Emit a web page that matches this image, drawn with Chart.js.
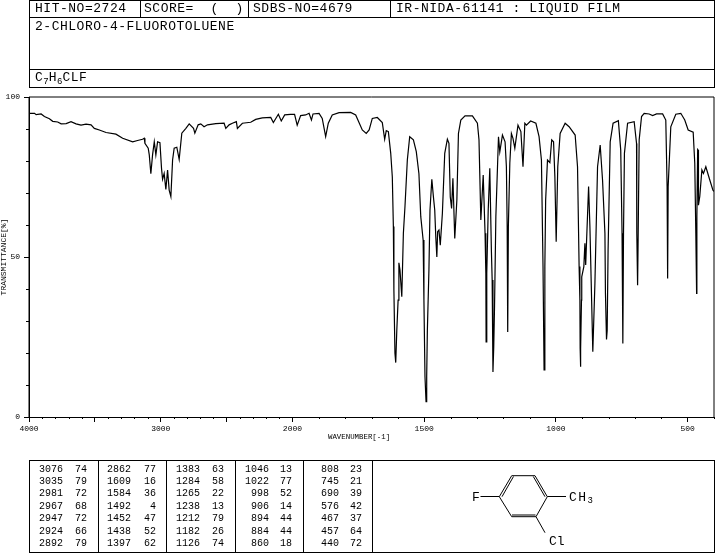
<!DOCTYPE html>
<html lang="en">
<head>
<meta charset="UTF-8">
<title>2-CHLORO-4-FLUOROTOLUENE</title>
<script src="https://cdn.jsdelivr.net/npm/chart.js"></script>
<style>
    html, body { margin: 0; padding: 0; background: #fff; }
    body { width: 715px; height: 553px; position: relative; overflow: hidden; font-family: 'Liberation Mono', monospace; color: #000; }
    canvas { position: absolute; left: 0; top: 0; }
    .line { position: absolute; background: #000; }
    .head { position: absolute; font-size: 13px; letter-spacing: .52px; line-height: 14px; white-space: pre; }
    .head sub { font-size: 9px; line-height: 0; letter-spacing: 0; vertical-align: -3px; }
    .cell { position: absolute; font-size: 10px; line-height: 10px; text-align: right; white-space: pre; }
    #xtitle { position: absolute; left: 328px; top: 433px; font-size: 7.4px; line-height: 8px; white-space: pre; }
    svg { position: absolute; left: 0; top: 0; }
    svg text { font-family: 'Liberation Mono', monospace; font-size: 13px; }
</style>
</head>
<body>
<canvas id="irChart" width="715" height="553"></canvas>
<div id="frame"></div>
<div id="xtitle">WAVENUMBER[-1]</div>
<svg width="715" height="553" fill="none" stroke="#000" stroke-width="1">
    <!-- ring -->
    <path d="M499.3 496.7 L511.7 475.7 L535 475.7 L547.3 496.7 L536 516.7 L511.7 516.7 Z"/>
    <path d="M502 496.7 L513.5 476.5 M533.3 476.5 L545 496.7 M512 515 L535.5 515"/>
    <path d="M480.5 496.5 L499.3 496.5 M547.3 496.5 L566 496.5 M536 516.7 L545 532.7"/>
    <text x="472" y="501" fill="#000" stroke="none">F</text>
    <text x="569" y="501" fill="#000" stroke="none" textLength="24">CH<tspan font-size="9" dy="2">3</tspan></text>
    <text x="549" y="545" fill="#000" stroke="none">Cl</text>
</svg>

<script>
    // header boxes
    var hitText = 'HIT-NO=2724';
    var scoreText = 'SCORE=  (  )';
    var sdbsText = 'SDBS-NO=4679';
    var sourceText = 'IR-NIDA-61141 : LIQUID FILM';
    var compoundName = '2-CHLORO-4-FLUOROTOLUENE';

    // spectrum
    var wavenumbers = [4000, 3958, 3946, 3908, 3883, 3845, 3820, 3782, 3756, 3718, 3681, 3643, 3605, 3567, 3529, 3504, 3466, 3415, 3340, 3289, 3213, 3176, 3138, 3125, 3120, 3095, 3087, 3075, 3062, 3049, 3037, 3024, 3006, 2994, 2986, 2974, 2961, 2948, 2936, 2923, 2910, 2898, 2878, 2860, 2840, 2809, 2784, 2751, 2741, 2716, 2696, 2671, 2645, 2582, 2519, 2506, 2481, 2456, 2426, 2418, 2380, 2317, 2279, 2229, 2165, 2145, 2107, 2085, 2059, 2016, 1992, 1982, 1969, 1950, 1937, 1928, 1922, 1899, 1887, 1874, 1864, 1849, 1823, 1779, 1760, 1735, 1720, 1709, 1697, 1678, 1659, 1650, 1644, 1636, 1627, 1621, 1617, 1615, 1611, 1608, 1604, 1599, 1596, 1592, 1585, 1579, 1573, 1564, 1555, 1541, 1530, 1520, 1513, 1504, 1501, 1497, 1493, 1490.5, 1488, 1482, 1478, 1471, 1465, 1460, 1456, 1452, 1449, 1444, 1439, 1431, 1422, 1412, 1406, 1401, 1396, 1391, 1384, 1376, 1370, 1361, 1345, 1317, 1298, 1292, 1285, 1276, 1269, 1266, 1265, 1262.5, 1257, 1251, 1245, 1242, 1239, 1236, 1233, 1228, 1218, 1213, 1203, 1193, 1188, 1185, 1183, 1180.5, 1175, 1169, 1163, 1156, 1144, 1133, 1125, 1118, 1112, 1096, 1076, 1064, 1055, 1049, 1045, 1042, 1039, 1032, 1023, 1016, 1009, 1004, 999, 993, 984, 965, 950, 927, 918, 912, 909, 908, 907, 905.5, 903, 902, 894, 890, 887, 884, 876, 871, 866, 860, 852, 842, 832, 823, 814, 812, 808, 805.5, 802, 794, 783, 763, 754, 751, 749, 746, 743.5, 740, 728, 703, 694, 693, 690, 688, 684, 675, 665, 646, 633, 618, 595, 583, 578, 576, 574, 564, 545, 526, 511, 498, 479, 473, 469, 466, 465, 462, 460, 459, 454, 446, 440, 431, 418, 404, 400];
    var transmittance = [94.9, 94.9, 94.5, 94.7, 93.9, 93.2, 92.4, 92.2, 91.6, 91.7, 92.3, 91.6, 91.2, 91.5, 91.3, 90.2, 89.7, 88.9, 88.4, 87.1, 86.0, 86.4, 86.8, 87.1, 85.5, 84, 81.9, 76, 81.9, 86, 81.9, 86, 85.7, 77.7, 74.3, 76.1, 71.1, 77.2, 70.9, 68.9, 80.3, 84, 84.3, 80.5, 88.7, 90.2, 91.6, 90.2, 88.7, 91.3, 91.6, 90.7, 91.3, 91.7, 91.8, 90.2, 91.3, 91.8, 92.3, 90.2, 91.8, 92.1, 93, 93.5, 93.6, 92, 94.6, 92.5, 94.4, 94.6, 94.6, 91.2, 94.2, 94.4, 94.9, 92.8, 94.7, 94.9, 93.3, 87.6, 91.8, 94.4, 95.1, 95.2, 94.4, 89.7, 88.6, 89.7, 93.3, 93.6, 92, 86.8, 89.5, 89.2, 82.4, 75, 59.5, 39.7, 19.9, 17, 27, 36.5, 48.2, 46, 37.6, 57.4, 65.7, 80.3, 87.6, 86.6, 82.9, 76, 62.6, 55.3, 36.5, 12.6, 4.8, 12.6, 27, 46, 64.7, 74.3, 68.8, 64.7, 56.3, 50, 57.9, 58.4, 53.7, 63.6, 82.4, 86.8, 85.5, 68.8, 65.2, 74.6, 55.8, 67.8, 88.6, 92.8, 94.1, 94.1, 91.8, 86.6, 61.6, 75.6, 57.4, 44.9, 23.5, 44.9, 64.7, 77.7, 52.2, 42.8, 14.1, 22, 34.5, 62.6, 87.6, 82.9, 88.1, 86, 78.2, 59.5, 26.6, 59.5, 79.3, 88.6, 87.1, 84, 91.2, 89.2, 78.2, 91.8, 91.2, 92.5, 91.8, 87.6, 80.3, 47, 14.7, 47, 67.8, 80.3, 79.5, 86.6, 86, 75.1, 54.8, 78.2, 88.6, 91.8, 90.7, 88.1, 78.2, 47, 36.5, 21.4, 15.7, 21.4, 36.5, 43.8, 47, 54.3, 47.5, 54.3, 72, 59.5, 41.8, 20.4, 41.8, 78.2, 85, 74, 57.4, 38.6, 24.2, 27, 52.2, 86, 91.8, 92.6, 83.4, 67.8, 57.4, 23, 57.4, 82.4, 91.8, 92.3, 85.5, 57.4, 41.2, 55.3, 86.6, 93.9, 94.9, 94.7, 94.2, 94.7, 94.7, 92.8, 72, 43.3, 72, 90.7, 94.6, 94.9, 92.8, 89.7, 89, 79.3, 57.4, 38.6, 62.6, 83.6, 83.4, 66.2, 68.9, 77.2, 76.1, 78.2, 74.6, 70.9, 70.5];

    // peak table, column by column
    var peakWavenumbers = [
        [3076, 3035, 2981, 2967, 2947, 2924, 2892],
        [2862, 1609, 1584, 1492, 1452, 1438, 1397],
        [1383, 1284, 1265, 1238, 1212, 1182, 1126],
        [1046, 1022, 998, 906, 894, 884, 860],
        [808, 745, 690, 576, 467, 457, 440]
    ];
    var peakValues = [
        [74, 79, 72, 68, 72, 66, 79],
        [77, 16, 36, 4, 47, 52, 62],
        [63, 58, 22, 13, 79, 26, 74],
        [13, 77, 52, 14, 44, 44, 18],
        [23, 21, 39, 42, 37, 64, 72]
    ];

    // axis ticks
    var majorTicks = [4000, 3500, 3000, 2500, 2000, 1500, 1000, 500];
    var labelledTicks = [4000, 3000, 2000, 1500, 1000, 500];
    var minorTicks = [3900, 3800, 3700, 3600, 3400, 3300, 3200, 3100, 2900, 2800, 2700, 2600, 2400, 2300, 2200, 2100, 1900, 1800, 1700, 1600, 1400, 1300, 1200, 1100, 900, 800, 700, 600, 400];
    var yMajorTicks = [0, 50, 100];
    var yMinorTicks = [10, 20, 30, 40, 60, 70, 80, 90];

    // the axis is compressed by 2 above 2000 cm-1
    function wnToAxis(w) {
        return w >= 2000 ? (4000 - w) / 2 : 1000 + (2000 - w);
    }
    function axisToWn(a) {
        return a <= 1000 ? 4000 - a * 2 : 2000 - (a - 1000);
    }

    var frame = document.getElementById('frame');
    function addLine(x, y, w, h) {
        var d = document.createElement('div');
        d.className = 'line';
        d.style.cssText = 'left:' + x + 'px;top:' + y + 'px;width:' + w + 'px;height:' + h + 'px';
        frame.appendChild(d);
    }
    function addHead(x, y, html) {
        var d = document.createElement('div');
        d.className = 'head';
        d.style.left = x + 'px';
        d.style.top = y + 'px';
        d.innerHTML = html;
        frame.appendChild(d);
    }

    // header frame
    addLine(29, 0, 686, 1);
    addLine(29, 17, 686, 1);
    addLine(29, 69, 686, 1);
    addLine(29, 87, 686, 1);
    addLine(29, 0, 1, 88);
    addLine(714, 0, 1, 88);
    addLine(140, 0, 1, 18);
    addLine(248, 0, 1, 18);
    addLine(390, 0, 1, 18);
    addHead(35, 2, hitText);
    addHead(144, 2, scoreText);
    addHead(253, 2, sdbsText);
    addHead(396, 2, sourceText);
    addHead(35, 20, compoundName);
    addHead(35, 71, 'C<sub>7</sub>H<sub>6</sub>CLF');

    // table frame
    addLine(29, 460, 686, 1);
    addLine(29, 552, 686, 1);
    addLine(29, 460, 1, 93);
    addLine(714, 460, 1, 93);
    var dividers = [98, 166, 235, 303, 372];
    dividers.forEach(function (x) { addLine(x, 460, 1, 93); });

    var wnRight = [63, 131, 200, 269, 339];
    var valRight = [87, 156, 224, 292, 362];
    peakWavenumbers.forEach(function (col, c) {
        col.forEach(function (w, r) {
            var y = 464.5 + r * 12.4;
            [[w, wnRight[c]], [peakValues[c][r], valRight[c]]].forEach(function (p) {
                var d = document.createElement('div');
                d.className = 'cell';
                d.textContent = p[0];
                d.style.right = (715 - p[1]) + 'px';
                d.style.top = y + 'px';
                frame.appendChild(d);
            });
        });
    });

    var spectrumPoints = wavenumbers.map(function (w, i) {
        return { x: wnToAxis(w), y: transmittance[i] };
    });

    var framePlugin = {
        id: 'framePlugin',
        afterDraw: function (chart) {
            var c = chart.ctx, a = chart.chartArea, xs = chart.scales.x, ys = chart.scales.y;
            c.save();
            c.strokeStyle = '#000';
            c.lineWidth = 1;
            c.beginPath();
            c.moveTo(a.left, a.bottom);
            c.lineTo(a.left, a.top);
            c.lineTo(a.right, a.top);
            c.lineTo(a.right, a.bottom);
            minorTicks.forEach(function (w) {
                var px = Math.round(xs.getPixelForValue(wnToAxis(w))) + 0.5;
                c.moveTo(px, a.bottom);
                c.lineTo(px, a.bottom + 2);
            });
            yMinorTicks.forEach(function (t) {
                var py = Math.round(ys.getPixelForValue(t)) + 0.5;
                c.moveTo(a.left, py);
                c.lineTo(a.left - 3, py);
            });
            c.stroke();
            c.restore();
        }
    };

    new Chart(document.getElementById('irChart'), {
        type: 'line',
        data: {
            datasets: [{
                data: spectrumPoints,
                borderColor: '#000',
                borderWidth: 1.2,
                pointRadius: 0,
                tension: 0,
                fill: false
            }]
        },
        options: {
            responsive: false,
            animation: false,
            devicePixelRatio: 1,
            layout: { padding: { left: 0, right: 1, top: 97, bottom: 0 } },
            plugins: { legend: { display: false }, tooltip: { enabled: false } },
            scales: {
                x: {
                    type: 'linear',
                    min: 0,
                    max: wnToAxis(400),
                    afterBuildTicks: function (scale) {
                        scale.ticks = majorTicks.map(function (w) { return { value: wnToAxis(w) }; });
                    },
                    afterFit: function (scale) { scale.height = 136; },
                    grid: { drawOnChartArea: false, tickLength: 5, tickColor: '#000', tickWidth: 1 },
                    border: { color: '#000', width: 1 },
                    ticks: {
                        autoSkip: false,
                        maxRotation: 0,
                        padding: 2,
                        color: '#000',
                        font: { family: 'Liberation Mono', size: 8 },
                        callback: function (v) {
                            var w = axisToWn(v);
                            return labelledTicks.indexOf(w) >= 0 ? String(w) : '';
                        }
                    }
                },
                y: {
                    min: 0,
                    max: 100,
                    afterBuildTicks: function (scale) {
                        scale.ticks = yMajorTicks.map(function (t) { return { value: t }; });
                    },
                    afterFit: function (scale) { scale.width = 29; },
                    grid: { drawOnChartArea: false, tickLength: 5, tickColor: '#000', tickWidth: 1 },
                    border: { color: '#000', width: 1 },
                    title: {
                        display: true,
                        text: 'TRANSMITTANCE[%]',
                        color: '#000',
                        padding: 0,
                        font: { family: 'Liberation Mono', size: 8, lineHeight: 0.9 }
                    },
                    ticks: {
                        padding: 4,
                        color: '#000',
                        font: { family: 'Liberation Mono', size: 8 },
                        callback: function (v) { return String(v); }
                    }
                }
            }
        },
        plugins: [framePlugin]
    });
</script>
</body>
</html>
